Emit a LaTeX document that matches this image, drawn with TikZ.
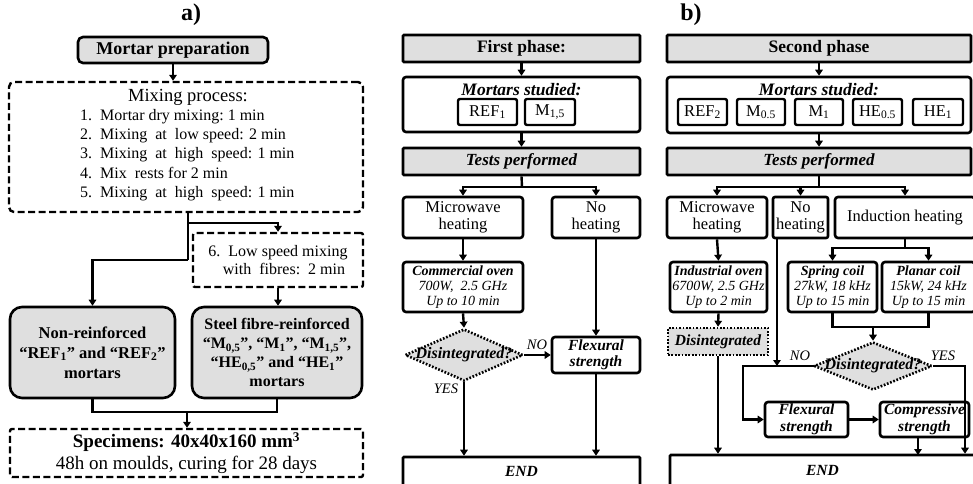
\documentclass[tikz,border=0pt]{standalone}
\usepackage{fontspec}
\setmainfont{Liberation Serif}
\usetikzlibrary{arrows.meta,shapes.geometric}
\newcommand\fs[1]{\fontsize{#1}{#1}\selectfont}
\newcommand\boxat[6]{\node[#1,minimum width={#4-#2},minimum height={#5-#3}] (#6) at ({(#2+#4)/2},{(#3+#5)/2})}
\begin{document}
\begin{tikzpicture}[x=1pt,y=-1pt,
  box/.style={draw,line width=2.6pt,rectangle,rounded corners=3pt,align=center,inner sep=1pt,font=\fs{16.5}},
  gbox/.style={box,fill=gray!25},
  dbox/.style={box,line width=2.4pt,dash pattern=on 7pt off 3.5pt,rounded corners=5pt},
  sbox/.style={box,line width=2.4pt,rounded corners=2pt},
  dotbox/.style={box,fill=gray!25,line width=2.6pt,dash pattern=on 1.7pt off 1.7pt,rounded corners=0pt},
  dia/.style={draw,diamond,fill=gray!25,line width=2.6pt,dash pattern=on 1.7pt off 1.7pt,inner sep=0pt,aspect=2.2},
  line/.style={line width=2.4pt},
  arr/.style={line width=2.4pt,-{Triangle[length=6pt,width=7.5pt]}},
  lab/.style={font=\fs{14.5}\itshape,inner sep=0pt},
  txt/.style={inner sep=0pt,align=center},
]
\useasboundingbox (0,0) rectangle (973,483);
% ---------- panel a ----------
\node[txt,font=\fs{24}\bfseries] (la) at (191,15) {a)};
\boxat{gbox,rounded corners=5pt,font=\fs{18}\bfseries}{78}{37}{268}{63}{mp} {Mortar preparation};
\boxat{dbox}{9}{82}{363}{212}{mix} {};
\node[txt,font=\fs{18.5}] (mixt) at (188,97) {Mixing process:};
\node[txt,anchor=north west,align=left,font=\fontsize{16}{19.3}\selectfont] (mixl) at (80,109)
 {\makebox[12pt][r]{1.}\hspace{8pt}Mortar dry mixing:\ 1 min\\
  \makebox[12pt][r]{2.}\hspace{8pt}Mixing\ \ at\ \ low speed: 2 min\\
  \makebox[12pt][r]{3.}\hspace{8pt}Mixing\ \ at\ \ high\ \ speed: 1 min\\
  \makebox[12pt][r]{4.}\hspace{8pt}Mix\ \ rests for 2 min\\
  \makebox[12pt][r]{5.}\hspace{8pt}Mixing\ \ at\ \ high\ \ speed: 1 min};
\boxat{dbox,font=\fs{16},rounded corners=2pt}{193}{233}{363}{287}{six} {6.\ \ Low speed mixing\\[2pt]\ \ \ with\ \ fibres:\ \ 2 min};
\boxat{gbox,rounded corners=12pt,font=\fontsize{16.5}{20}\selectfont\bfseries}{10}{307}{175}{398}{nr} {Non-reinforced\\“REF\textsubscript{1}” and “REF\textsubscript{2}”\\mortars};
\boxat{gbox,rounded corners=12pt,font=\fontsize{16}{19}\selectfont\bfseries}{192}{307}{362}{398}{st} {Steel fibre-reinforced\\“M\textsubscript{0,5}”, “M\textsubscript{1}”, “M\textsubscript{1,5}”,\\“HE\textsubscript{0,5}” and “HE\textsubscript{1}”\\mortars};
\boxat{dbox,rounded corners=2pt}{10}{429}{363}{477}{sp} {\fs{19}\textbf{Specimens: 40x40x160 mm\textsuperscript{3}}\\[3pt]\fs{19}48h on moulds, curing for 28 days};
\coordinate (j1) at (188,223);
\coordinate (j2) at (188,260);
\coordinate (j3) at (187,412);
\draw[arr] (mp.south) -- (mp.south |- mix.north);
\draw[line] (mix.south -| j1) -- (j2);
\draw[arr] (j1) -| (six.north);
\draw[arr] (j2) -| (nr.north);
\draw[arr] (six.south) -- (six.south |- st.north);
\draw[line] (nr.south) |- (j3) -| (st.south);
\draw[arr] (j3) -- (j3 |- sp.north);
% ---------- panel b : first phase ----------
\boxat{gbox,rounded corners=1pt,font=\fs{17.5}\bfseries}{403}{35}{640}{62}{fp} {First phase:};
\boxat{box}{403}{77}{640}{132}{ms1} {};
\node[txt,font=\fs{17.5}\bfseries\itshape] (ms1t) at (521.5,90) {Mortars studied:};
\boxat{sbox}{458}{99}{517}{125}{r1} {REF\textsubscript{1}};
\boxat{sbox}{525}{99}{575}{125}{m15} {M\textsubscript{1,5}};
\boxat{gbox,rounded corners=1pt,font=\fs{17}\bfseries\itshape}{403}{148}{640}{175}{tp1} {Tests performed};
\boxat{box}{403}{197}{523}{238}{mw1} {Microwave\\[1pt]heating};
\boxat{box}{552}{197}{640}{238}{nh1} {No\\[1pt]heating};
\boxat{box,font=\fs{14}\itshape}{403}{262}{523}{312}{co} {\textbf{Commercial oven}\\[1pt]700W,\ \ 2.5 GHz\\[1pt]Up to 10 min};
\node[dia,minimum width=118,minimum height=52] (d1) at (464,355) {};
\node[txt,font=\fs{16}\bfseries\itshape] (d1t) at (d1) {Disintegrated?};
\boxat{box,font=\fs{15.5}\bfseries\itshape}{552}{337}{640}{373}{fl1} {Flexural\\[1pt]strength};
\boxat{box,rounded corners=1pt,font=\fs{15.5}\bfseries\itshape}{403}{457}{640}{486}{e1} {END};
\coordinate (k1) at (522,187);
\draw[arr] (fp.south) -- (ms1.north);
\draw[arr] (ms1.south) -- (tp1.north);
\draw[line] (tp1.south) -- (k1);
\draw[arr] (k1) -| (mw1.north);
\draw[arr] (k1) -| (nh1.north);
\draw[arr] (mw1.south) -- (co.north);
\draw[arr] (co.south) -- (d1.north);
\draw[arr] (d1.east) -- (fl1.west);
\node[lab] (no1) at (537,345) {NO};
\draw[arr] (d1.south) -- (d1.south |- e1.north);
\node[lab] (yes1) at (446,389) {YES};
\draw[arr] (nh1.south) -- (fl1.north);
\draw[arr] (fl1.south) -- (fl1.south |- e1.north);
% ---------- panel b : second phase ----------
\node[txt,font=\fs{24}\bfseries] (lb) at (691,15) {b)};
\boxat{gbox,rounded corners=1pt,font=\fs{17.5}\bfseries}{667}{35}{971}{62}{sph} {Second phase};
\boxat{box}{667}{77}{971}{133}{ms2} {};
\node[txt,font=\fs{17.5}\bfseries\itshape] (ms2t) at (819,90) {Mortars studied:};
\boxat{sbox}{678}{99}{727}{125}{r2} {REF\textsubscript{2}};
\boxat{sbox}{737}{99}{785}{125}{m05} {M\textsubscript{0.5}};
\boxat{sbox}{795}{99}{843}{125}{m1} {M\textsubscript{1}};
\boxat{sbox}{853}{99}{902}{125}{h05} {HE\textsubscript{0.5}};
\boxat{sbox}{913}{99}{963}{125}{h1} {HE\textsubscript{1}};
\boxat{gbox,rounded corners=1pt,font=\fs{17}\bfseries\itshape}{667}{148}{971}{175}{tp2} {Tests performed};
\boxat{box}{667}{197}{767}{238}{mw2} {Microwave\\[1pt]heating};
\boxat{box,rounded corners=2pt}{773}{197}{828}{238}{nh2} {No\\[1pt]heating};
\boxat{box}{835}{197}{975}{238}{ind} {Induction heating};
\boxat{box,font=\fs{14}\itshape}{670}{262}{767}{312}{io} {\textbf{Industrial oven}\\[1pt]6700W, 2.5 GHz\\[1pt]Up to 2 min};
\boxat{dotbox,font=\fs{15.5}\bfseries\itshape}{668}{328}{768}{355}{dis} {Disintegrated};
\boxat{box,font=\fs{14}\itshape}{788}{262}{877}{312}{spc} {\textbf{Spring coil}\\[1pt]27kW, 18 kHz\\[1pt]Up to 15 min};
\boxat{box,font=\fs{14}\itshape}{882}{262}{975}{312}{plc} {\textbf{Planar coil}\\[1pt]15kW, 24 kHz\\[1pt]Up to 15 min};
\node[dia,minimum width=118,minimum height=48] (d2) at (873,366) {};
\node[txt,font=\fs{16}\bfseries\itshape] (d2t) at (d2) {Disintegrated?};
\boxat{box,font=\fs{15.5}\bfseries\itshape}{765}{402}{848}{437}{fl2} {Flexural\\[1pt]strength};
\boxat{box,font=\fs{15.5}\bfseries\itshape}{880}{402}{969}{437}{cs} {Compressive\\[1pt]strength};
\boxat{box,rounded corners=1pt,font=\fs{15.5}\bfseries\itshape}{670}{455}{975}{486}{e2} {END};
\coordinate (k2) at (819,187);
\coordinate (k3) at (905,248);
\coordinate (k4) at (873,327);
\coordinate (k5) at (743,366);
\coordinate (k6) at (965,366);
\coordinate (k7) at (777,238);
\coordinate (k8) at (918,455);
\draw[arr] (sph.south) -- (ms2.north);
\draw[arr] (ms2.south) -- (tp2.north);
\draw[line] (tp2.south) -- (k2);
\draw[arr] (k2) -| (mw2.north);
\draw[arr] (k2) -| (nh2.north);
\draw[arr] (k2) -| (ind.north);
\draw[arr] (mw2.south) -- (io.north);
\draw[arr] (io.south) -- (dis.north);
\draw[arr] (dis.south) -- (dis.south |- e2.north);
\draw[line] (ind.south -| k3) -- (k3);
\draw[arr] (k3) -| (spc.north);
\draw[arr] (k3) -| (plc.north);
\draw[line] (spc.south) |- (k4) -| (plc.south);
\draw[arr] (k4) -- (d2.north);
\draw[arr] (d2.west) -- (k5) |- (fl2.west);
\node[lab] (no2) at (800,356) {NO};
\draw[arr] (k7) -- (k7 |- d2.west);
\draw[arr] (d2.east) -- (k6) -- (k6 |- e2.north);
\node[lab] (yes2) at (943,356) {YES};
\draw[arr] (fl2.east) -- (cs.west);
\draw[arr] (cs.south -| k8) -- (k8);
\end{tikzpicture}
\end{document}
